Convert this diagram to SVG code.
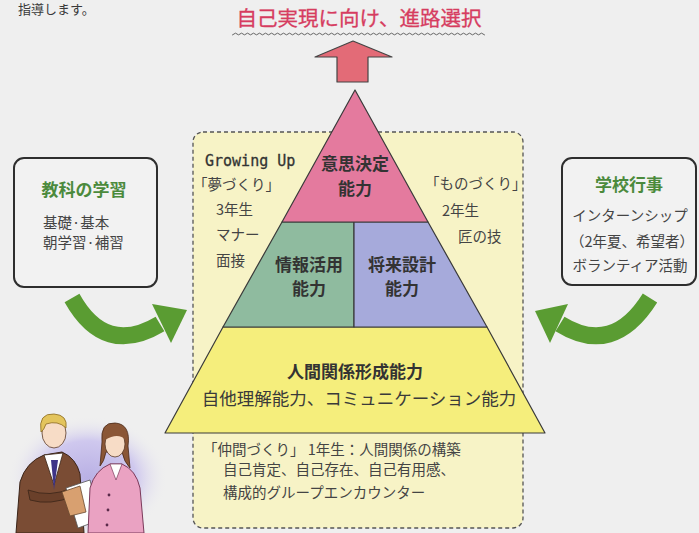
<svg xmlns="http://www.w3.org/2000/svg" width="699" height="533" viewBox="0 0 699 533">
  <style>
    .jp { font-family: "Noto Sans CJK JP", "Noto Sans", sans-serif; fill: #3a3a3a; }
    .lbl { font-size: 17px; font-weight: bold; text-anchor: middle; fill: #333; }
    .note { font-size: 14.5px; fill: #444; }
    .head { font-size: 17px; font-weight: bold; fill: #4b8a3c; text-anchor: middle; }
    .side { fill: #f2f2f2; stroke: #2e2e2e; stroke-width: 2; }
    .tier { stroke: #3a3a3a; stroke-width: 1.2; stroke-linejoin: round; }
    .flow { fill: none; stroke: #5a9c32; stroke-width: 17; }
    .flowhead { fill: #5a9c32; }
  </style>
  <defs>
    <pattern id="wave" width="6" height="4" patternUnits="userSpaceOnUse">
      <path d="M0,2 Q1.5,0.3 3,2 T6,2" fill="none" stroke="#555" stroke-width="0.9"/>
    </pattern>
    <radialGradient id="halo" cx="0.5" cy="0.5" r="0.5">
      <stop offset="0" stop-color="#b9b0e4"/>
      <stop offset="0.6" stop-color="#cfc8ee"/>
      <stop offset="1" stop-color="#efefef" stop-opacity="0"/>
    </radialGradient>
  </defs>

  <!-- page -->
  <rect width="699" height="533" fill="#efefef"/>
  <text x="18" y="14" class="jp" font-size="13" fill="#444">指導します。</text>

  <!-- goal heading -->
  <g id="goal">
    <text x="359" y="26" class="jp" font-size="20.5" text-anchor="middle" style="fill:#d63c60" stroke="#d63c60" stroke-width="0.3">自己実現に向け、進路選択</text>
    <rect x="232" y="32" width="253" height="4" fill="url(#wave)"/>
  </g>

  <!-- dashed frame with grade notes -->
  <g id="frame">
    <rect x="193" y="132" width="330" height="396" rx="10" fill="#f7f3c6" stroke="#555" stroke-width="1.3" stroke-dasharray="4 3"/>
    <text x="205" y="166" font-family="'DejaVu Sans Mono', 'Liberation Mono', monospace" font-size="15" fill="#333" stroke="#333" stroke-width="0.3">Growing Up</text>
    <text x="193" y="190" class="jp note">「夢づくり」</text>
    <text x="216" y="215" class="jp note">3年生</text>
    <text x="216" y="240" class="jp note">マナー</text>
    <text x="216" y="266" class="jp note">面接</text>
    <text x="425" y="189" class="jp note">「ものづくり」</text>
    <text x="442" y="216" class="jp note">2年生</text>
    <text x="458" y="242" class="jp note">匠の技</text>
    <text x="203" y="455" class="jp note" font-size="15">「仲間づくり」 1年生：人間関係の構築</text>
    <text x="223" y="475" class="jp note" font-size="14">自己肯定、自己存在、自己有用感、</text>
    <text x="223" y="498" class="jp note" font-size="15">構成的グループエンカウンター</text>
  </g>

  <!-- connectors -->
  <g id="connectors">
    <path d="M337,82 L337,57 L315,57 L353,41 L392,57 L368,57 L368,82 Z" fill="#e36b77" stroke="#444" stroke-width="1.2" stroke-linejoin="round"/>
    <path class="flow" d="M72,298 Q105,357 160,324"/>
    <polygon class="flowhead" points="187,310 152,304 171,343"/>
    <path class="flow" d="M650,298 Q613,357 560,324"/>
    <polygon class="flowhead" points="535,311 568,304 550,343"/>
  </g>

  <!-- pyramid tiers -->
  <g id="tier-human">
    <polygon class="tier" points="223,327 487,327 545,433 165,433" fill="#f5ee7c"/>
    <text x="355" y="378" class="jp lbl" font-size="20">人間関係形成能力</text>
    <text x="359" y="405" class="jp" font-size="17.5" text-anchor="middle" fill="#444">自他理解能力、コミュニケーション能力</text>
  </g>
  <g id="tier-info">
    <polygon class="tier" points="282,222 354,222 354,327 223,327" fill="#8fbb9f"/>
    <text x="309" y="271" class="jp lbl">情報活用</text>
    <text x="309" y="295" class="jp lbl">能力</text>
  </g>
  <g id="tier-career">
    <polygon class="tier" points="354,222 428,222 487,327 354,327" fill="#a6aadb"/>
    <text x="402" y="271" class="jp lbl">将来設計</text>
    <text x="402" y="295" class="jp lbl">能力</text>
  </g>
  <g id="tier-decision">
    <polygon class="tier" points="355,90 428,222 282,222" fill="#e47a9e"/>
    <text x="355" y="170" class="jp lbl">意思決定</text>
    <text x="355" y="195" class="jp lbl">能力</text>
  </g>

  <!-- side boxes -->
  <g id="subjects">
    <rect class="side" x="14" y="158" width="143" height="129" rx="10"/>
    <text x="84" y="196" class="jp head">教科の学習</text>
    <text x="43" y="228" class="jp note" font-size="15">基礎·基本</text>
    <text x="43" y="248" class="jp note" font-size="15">朝学習·補習</text>
  </g>
  <g id="events">
    <rect class="side" x="562" y="158" width="134" height="127" rx="10"/>
    <text x="629" y="191" class="jp head" font-size="16">学校行事</text>
    <text x="630" y="221" class="jp note" text-anchor="middle">インターンシップ</text>
    <text x="632" y="247" class="jp note" text-anchor="middle">（2年夏、希望者）</text>
    <text x="630" y="271" class="jp note" text-anchor="middle">ボランティア活動</text>
  </g>

  <!-- two people talking -->
  <g id="people">
    <ellipse cx="88" cy="478" rx="80" ry="62" fill="url(#halo)"/>
    <!-- man -->
    <path d="M16,533 L20,482 Q26,462 44,455 L62,452 Q76,458 80,474 L84,533 Z" fill="#7a4c34" stroke="#3a2418" stroke-width="1"/>
    <path d="M44,455 L54,485 L63,453 Z" fill="#ffffff" stroke="#3a2418" stroke-width="0.8"/>
    <path d="M51,460 L54,490 L58,460 Z" fill="#3e3488"/>
    <path d="M28,490 Q50,498 72,488 L74,496 Q50,506 30,500 Z" fill="#6a402a" stroke="#3a2418" stroke-width="0.8"/>
    <ellipse cx="54" cy="433" rx="12" ry="15" fill="#f7dcc6" stroke="#5a3a28" stroke-width="0.8"/>
    <path d="M41,432 Q38,413 54,414 Q68,415 66,428 Q58,420 46,424 Q44,430 41,432 Z" fill="#e3c45c" stroke="#8a6a20" stroke-width="0.8"/>
    <!-- papers -->
    <path d="M66,488 L90,480 L100,520 L78,528 Z" fill="#ffffff" stroke="#555" stroke-width="0.8"/>
    <path d="M62,492 L80,486 L86,512 L70,516 Z" fill="#d8a070" stroke="#6a4a30" stroke-width="0.8"/>
    <!-- woman -->
    <path d="M88,533 L90,488 Q95,470 110,464 L122,464 Q136,470 140,488 L144,533 Z" fill="#eaa2c2" stroke="#7a3a5a" stroke-width="1"/>
    <path d="M110,464 L116,480 L122,464 Z" fill="#ffffff" stroke="#7a3a5a" stroke-width="0.7"/>
    <circle cx="109" cy="495" r="1.4" fill="#5a2a4a"/>
    <circle cx="108" cy="510" r="1.4" fill="#5a2a4a"/>
    <circle cx="107" cy="525" r="1.4" fill="#5a2a4a"/>
    <path d="M102,442 Q100,422 115,423 Q131,424 128,446 L130,468 Q124,462 122,452 L106,452 Q104,462 100,466 Z" fill="#8a5636" stroke="#4a2a18" stroke-width="0.8"/>
    <ellipse cx="115" cy="444" rx="10" ry="13" fill="#f7dcc6" stroke="#5a3a28" stroke-width="0.8"/>
    <path d="M105,440 Q108,426 116,427 Q125,428 126,440 Q118,432 105,440 Z" fill="#8a5636"/>
  </g>
</svg>
